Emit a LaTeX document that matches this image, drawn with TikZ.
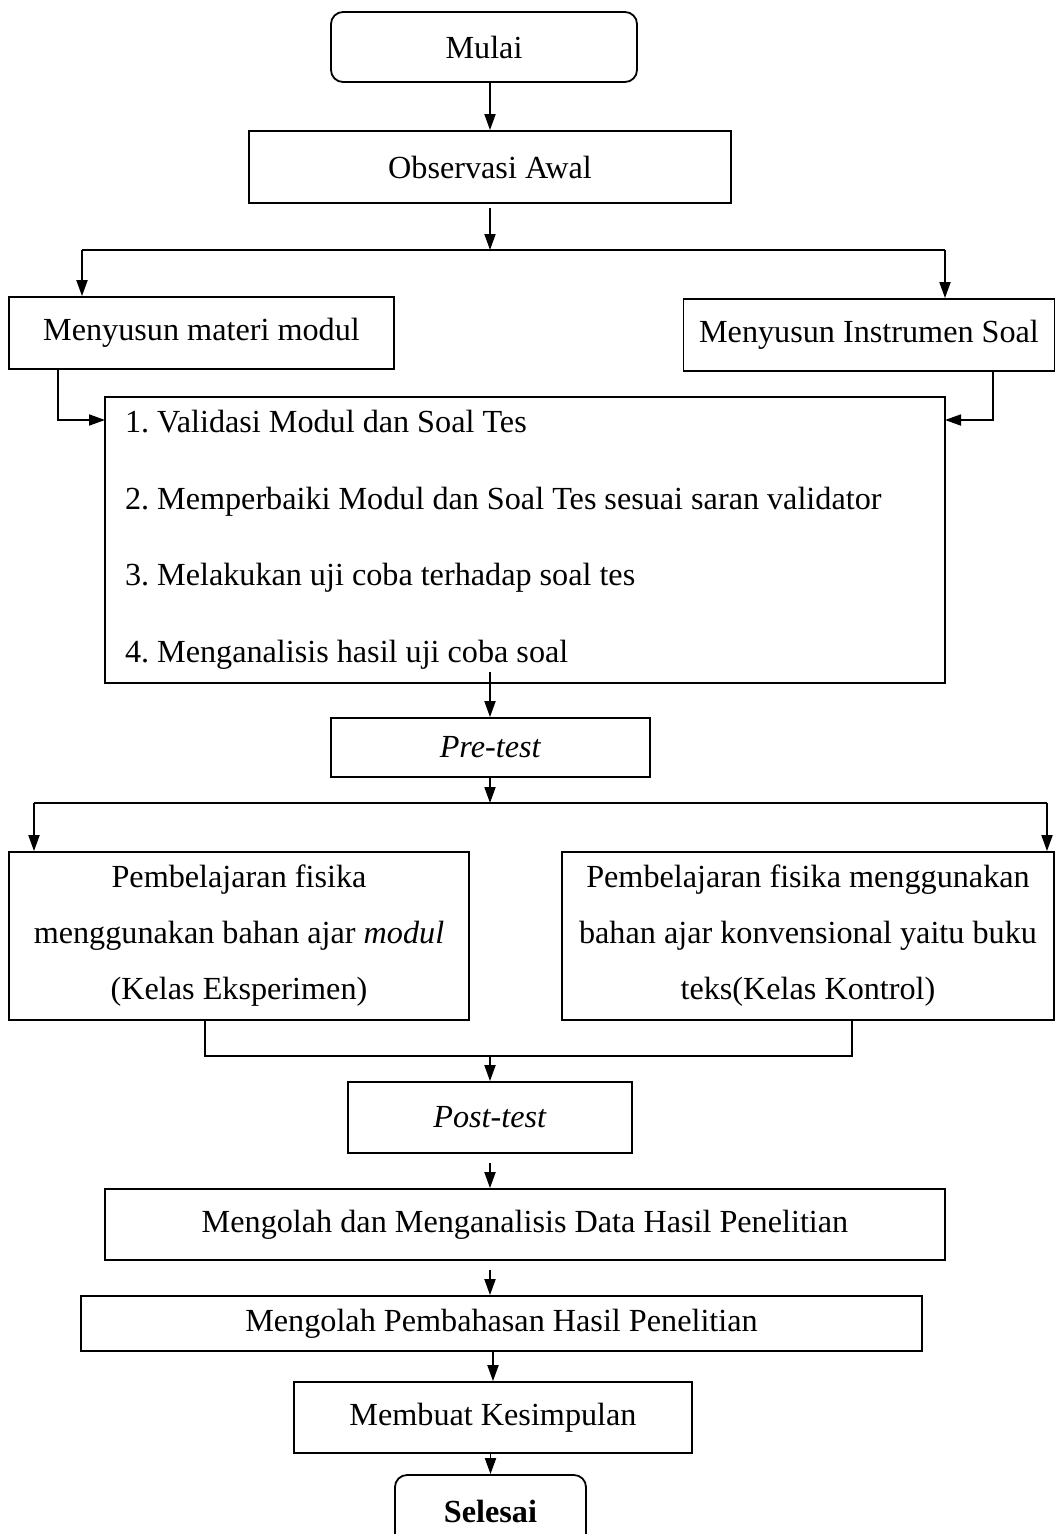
\documentclass[tikz,border=0pt]{standalone}
\usepackage{fontspec}
\setmainfont{Liberation Serif}
\usetikzlibrary{arrows.meta}
\frenchspacing
\tikzset{
  box/.style={draw, line width=1.8pt, inner sep=0pt, align=center, font=\fontsize{32.2}{56}\selectfont},
  rbox/.style={box, rounded corners=12pt},
  ln/.style={line width=1.8pt},
  arr/.style={line width=1.8pt, -{Triangle[length=16pt,width=11pt]}}
}
\begin{document}
\begin{tikzpicture}[x=1pt,y=-1pt]
\useasboundingbox (0,0) rectangle (1056,1534);
\fill[white] (0,0) rectangle (1056,1534);
% nodes
\node[rbox, minimum width=306, minimum height=70] (mulai) at (484,47) {Mulai};
\node[box, minimum width=482, minimum height=72] (obs) at (490,167) {Observasi Awal};
\node[box, minimum width=385, minimum height=72] (materi) at (201.5,333) {Menyusun materi modul};
\node[box, minimum width=371, minimum height=72] (instr) at (869,335) {Menyusun Instrumen Soal};
\node[box, minimum width=840, minimum height=286, text width=800, align=left, inner xsep=20pt,
      font=\fontsize{32.2}{76.5}\selectfont] (valid) at (525,540)
  {\spaceskip=8pt\relax 1. Validasi Modul dan Soal Tes\\2. Memperbaiki Modul dan Soal Tes sesuai saran validator\\3. Melakukan uji coba terhadap soal tes\\4. Menganalisis hasil uji coba soal};
\node[box, minimum width=319, minimum height=59] (pre) at (490.5,747.5) {\textit{Pre-test}};
\node[box, minimum width=460, minimum height=168] (kiri) at (239,936)
  {Pembelajaran fisika\\menggunakan bahan ajar \textit{modul}\\(Kelas Eksperimen)};
\node[box, minimum width=492, minimum height=168] (kanan) at (808,936)
  {Pembelajaran fisika menggunakan\\bahan ajar konvensional yaitu buku\\teks(Kelas Kontrol)};
\node[box, minimum width=284, minimum height=71] (post) at (490,1117.5) {\textit{Post-test}};
\node[box, minimum width=840, minimum height=71] (olah) at (525,1224.5) {Mengolah dan Menganalisis Data Hasil Penelitian};
\node[box, minimum width=841, minimum height=55] (bahas) at (501.5,1323.5) {Mengolah Pembahasan Hasil Penelitian};
\node[box, minimum width=398, minimum height=71] (simpul) at (493,1417.5) {Membuat Kesimpulan};
\node[rbox, minimum width=191, minimum height=72] (selesai) at (490.5,1511) {\textbf{Selesai}};
% coordinates
\coordinate (s1) at (490,250);
\coordinate (s1L) at (82,250);
\coordinate (s1R) at (945,250);
\coordinate (m1) at (58,369);
\coordinate (v1) at (105,420);
\coordinate (i1) at (993,371);
\coordinate (v2) at (945,420);
\coordinate (vout) at (490,672);
\coordinate (s2) at (490,803);
\coordinate (s2L) at (34,803);
\coordinate (s2R) at (1047,803);
\coordinate (j1) at (205,1056);
\coordinate (j2) at (852,1056);
\coordinate (j) at (490,1056);
% connectors
\draw[arr] (mulai.south -| obs.north) -- (obs.north);
\draw[arr, shorten <=4pt] (obs.south -| s1) -- (s1);
\draw[ln] (s1L) -- (s1R);
\draw[arr] (s1L) -- (s1L |- materi.north);
\draw[arr] (s1R) -- (s1R |- instr.north);
\draw[arr] (m1) |- (v1);
\draw[arr] (i1) |- (v2);
\draw[arr] (vout) -- (vout |- pre.north);
\draw[arr] (pre.south -| s2) -- (s2);
\draw[ln] (s2L) -- (s2R);
\draw[arr] (s2L) -- (s2L |- kiri.north);
\draw[arr] (s2R) -- (s2R |- kanan.north);
\draw[ln] (kiri.south -| j1) -- (j1) -- (j2) -- (kanan.south -| j2);
\draw[arr] (j) -- (j |- post.north);
\draw[arr, shorten <=9pt] (post.south -| s1) -- (s1 |- olah.north);
\draw[arr, shorten <=9pt] (olah.south -| s1) -- (s1 |- bahas.north);
\draw[arr] (bahas.south -| simpul.north) -- (simpul.north);
\draw[arr] (simpul.south -| selesai.north) -- (selesai.north);
\end{tikzpicture}
\end{document}
